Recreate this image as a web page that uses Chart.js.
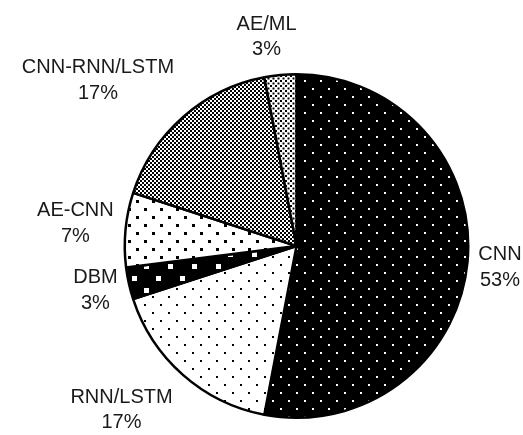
<!DOCTYPE html>
<html>
<head>
<meta charset="utf-8">
<script src="https://cdn.jsdelivr.net/npm/chart.js@4/dist/chart.umd.min.js"></script>
<style>
  html, body { margin: 0; padding: 0; background: #fff; }
  #wrap { width: 523px; height: 435px; }
</style>
</head>
<body>
<div id="wrap"><canvas id="c" width="523" height="435"></canvas></div>
<script>
// Share of deep-learning architectures (percent)
const categories = ['CNN', 'RNN/LSTM', 'DBM', 'AE-CNN', 'CNN-RNN/LSTM', 'AE/ML'];
const shares = [53, 17, 3, 7, 17, 3];

// Label placement tweaks (pixels) applied after the outside-end position
const labelNudge = [[1, 1], [-21, 11], [-2, -1], [-2, -5], [-28, -16], [-10, -10]];

// Monochrome fill patterns: two staggered squares per tile
function dotPattern(bg, fg, tw, th, size) {
  const c = document.createElement('canvas');
  c.width = tw; c.height = th;
  const g = c.getContext('2d');
  g.fillStyle = bg; g.fillRect(0, 0, tw, th);
  g.fillStyle = fg;
  g.fillRect(0, 0, size, size);
  g.fillRect(tw / 2, th / 2, size, size);
  return g.createPattern(c, 'repeat');
}

const ctx = document.getElementById('c').getContext('2d');
const fills = [
  dotPattern('#000', '#fff', 16, 16, 2),   // CNN
  dotPattern('#fff', '#000', 16, 16, 2),   // RNN/LSTM
  dotPattern('#000', '#fff', 24, 24, 5),   // DBM
  dotPattern('#fff', '#000', 16, 16, 3),   // AE-CNN
  dotPattern('#fff', '#000', 4, 4, 2),     // CNN-RNN/LSTM
  dotPattern('#fff', '#000', 5, 5, 2)      // AE/ML
];

const CAP = 14.3, LINE = 25.5, GAP = 10;

const sliceLabels = {
  id: 'sliceLabels',
  afterDatasetsDraw(chart) {
    const g = chart.ctx;
    const arcs = chart.getDatasetMeta(0).data;
    const total = shares.reduce((a, b) => a + b, 0);
    g.save();
    g.font = '20px "Liberation Sans", Arial, sans-serif';
    g.fillStyle = '#1a1a1a';
    g.textAlign = 'center';
    g.textBaseline = 'alphabetic';
    arcs.forEach((arc, i) => {
      const p = arc.getProps(['x', 'y', 'startAngle', 'endAngle', 'outerRadius'], true);
      const mid = (p.startAngle + p.endAngle) / 2;
      const dx = Math.cos(mid), dy = Math.sin(mid);
      const lines = [categories[i], Math.round(shares[i] / total * 100) + '%'];
      const w = Math.max(...lines.map(t => g.measureText(t).width));
      const h = CAP + LINE;
      const r = p.outerRadius + GAP;
      const cx = p.x + dx * r + dx * w / 2 + labelNudge[i][0];
      const cy = p.y + dy * r + dy * h / 2 + labelNudge[i][1];
      const top = cy - h / 2;
      g.fillText(lines[0], cx, top + CAP);
      g.fillText(lines[1], cx, top + CAP + LINE);
    });
    g.restore();
  }
};

new Chart(ctx, {
  type: 'pie',
  data: {
    labels: categories,
    datasets: [{
      data: shares,
      backgroundColor: fills,
      borderColor: '#000',
      borderWidth: 2.5
    }]
  },
  options: {
    responsive: false,
    animation: false,
    layout: { padding: { left: 123, right: 53, top: 73, bottom: 16 } },
    plugins: {
      legend: { display: false },
      tooltip: { enabled: false }
    }
  },
  plugins: [sliceLabels]
});
</script>
</body>
</html>
